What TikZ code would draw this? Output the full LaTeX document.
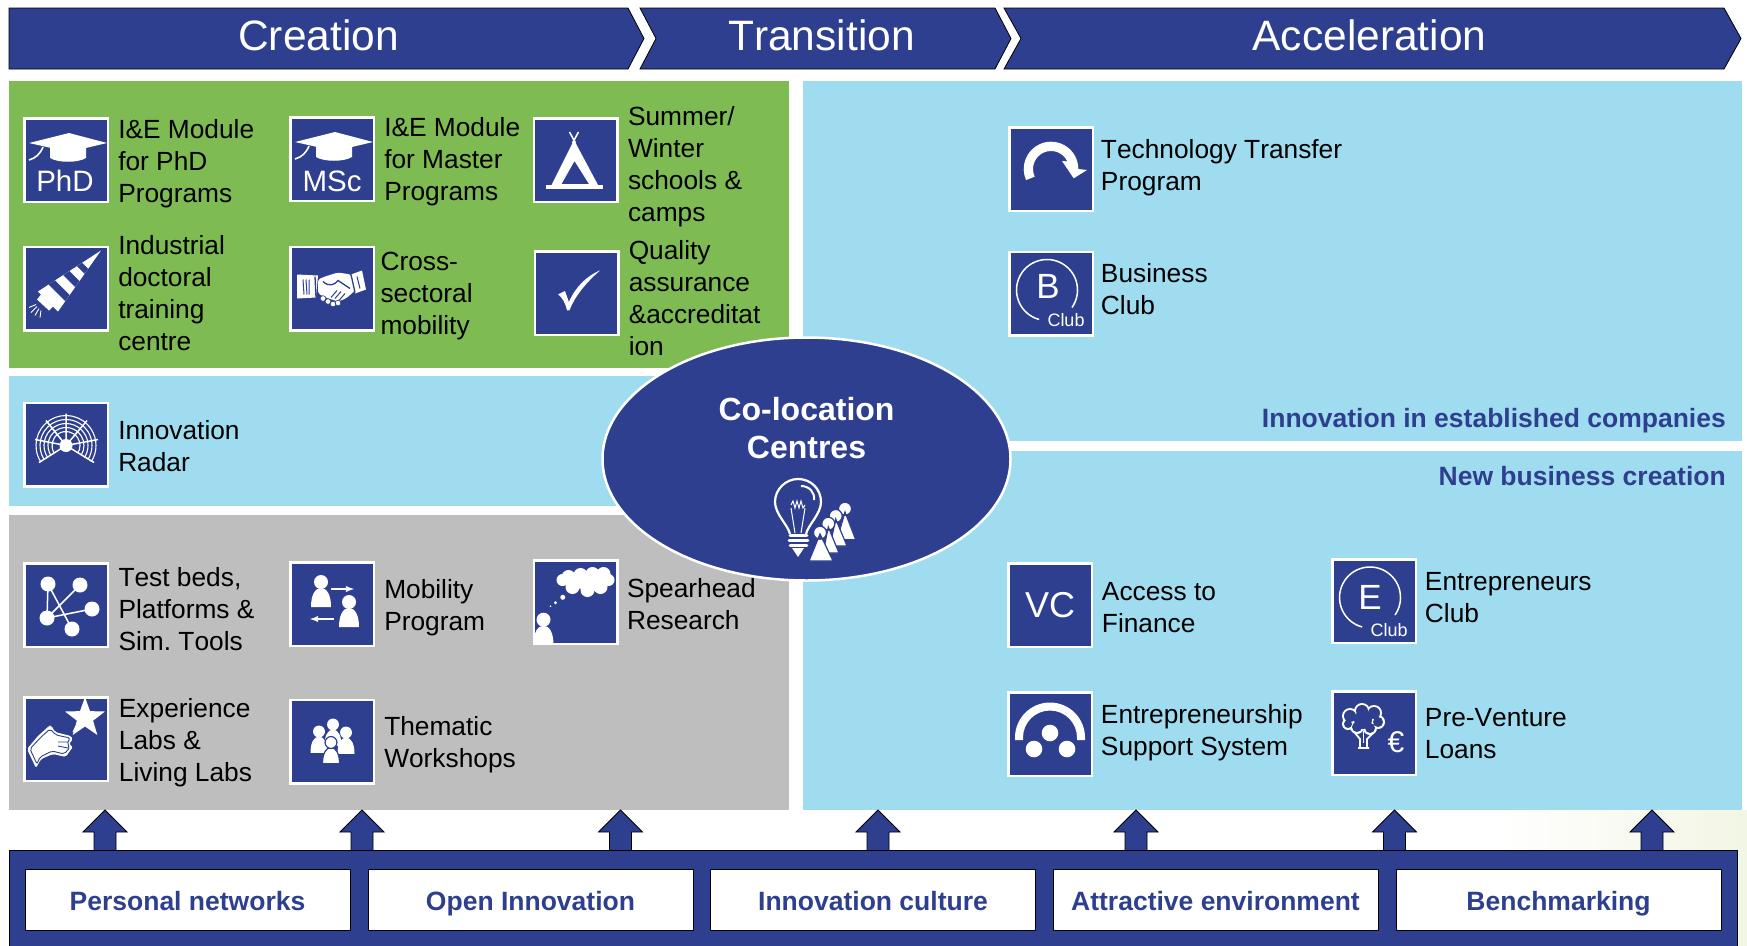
\documentclass[tikz,border=0pt]{standalone}
\usepackage{fontspec}
\setmainfont[Kerning=Off]{Liberation Sans}
\usetikzlibrary{positioning,shapes.geometric}
\definecolor{navyblue}{HTML}{2E3F8F}
\definecolor{panelgreen}{HTML}{7FBB53}
\definecolor{panelblue}{HTML}{A0DCF0}
\definecolor{panelgray}{HTML}{BEBEBE}
\definecolor{cornertint}{HTML}{F2F6E4}
\tikzset{
  stagebar/.style={draw=black, fill=navyblue, line width=0.8},
  stagelabel/.style={text=white, inner sep=0, font=\fontsize{42.5}{44}\selectfont},
  iconbox/.style={draw=white, fill=navyblue, line width=2.5, minimum size=83.5, inner sep=0, outer sep=0},
  iconlabel/.style={text=white, inner sep=0, font=\fontsize{29.5}{29.5}\selectfont},
  clublabel/.style={text=white, inner sep=0, font=\fontsize{18}{18}\selectfont},
  itemtext/.style={align=left, inner sep=0, font=\fontsize{26.3}{32}\selectfont},
  paneltitle/.style={text=navyblue, inner sep=0, font=\bfseries\fontsize{26.5}{32}\selectfont},
  enablerbox/.style={draw=black, fill=white, line width=0.8, minimum width=325, minimum height=61, inner sep=0, text height=21, text depth=0, text=navyblue, font=\bfseries\fontsize{26.5}{32}\selectfont},
  personglyph/.pic={
    \path[fill=white, pic actions] (-10,25) .. controls (-10,13) and (-6,6) .. (0,6) .. controls (6,6) and (10,13) .. (10,25) -- cycle;
    \path[fill=white, pic actions] (0,0) circle[radius=7pt];
  },
  capglyph/.pic={
    \fill[white] (-37,-17) -- (3,-27) -- (41,-17) -- (3,-8) -- cycle;
    \fill[white] (-16,-14) -- (20,-14) -- (20,-2) .. controls (12,3) and (-8,3) .. (-16,-2) -- cycle;
    \draw[white, line width=1.6] (-23,-13) .. controls (-26,-6) and (-30,-2) .. (-37,0);
  },
  tentglyph/.pic={
    \fill[white, even odd rule] (-1.5,-20) -- (22.5,25) -- (-24,25) -- cycle (-1,1) -- (13.5,24) -- (-14,24) -- cycle;
    \fill[white] (-30,25) rectangle (27,28.5);
    \draw[white, line width=1.5] (-6,-28) -- (0,-17) (3,-28) -- (-3,-17);
  },
  drillglyph/.pic={
    \fill[white] (-28,3) -- (35,-38) -- (-8,23) -- cycle;
    \fill[navyblue] (-17.3,-4) -- (-11,-8.1) -- (3.6,6.5) -- (-0.7,12.6) -- cycle;
    \fill[navyblue] (-2.8,-13.4) -- (3.5,-17.5) -- (13.5,-7.5) -- (9.2,-1.4) -- cycle;
    \fill[navyblue] (11,-22.4) -- (16.1,-25.7) -- (22.1,-19.7) -- (18.7,-14.8) -- cycle;
    \fill[white] (-25,6) -- (-13,18) -- (-17,22) -- (-29,11) -- cycle;
    \draw[white, line width=0.9] (-30,16) -- (-37,19) (-29,18) -- (-35,24) (-27,20) -- (-31,27) (-25,22) -- (-26,29);
  },
  handshakeglyph/.pic={
    \fill[white] (-35,-14) -- (-14,-13) -- (-16,9) -- (-35,10) -- cycle;
    \fill[white] (19,-14) -- (30,-18) -- (34,1) -- (23,5) -- cycle;
    \fill[white, rounded corners=2pt] (-14,-9) -- (-7,-12) -- (6,-16) -- (19,-14) -- (23,2) -- (14,10) -- (6,13) -- (-6,9) -- (-14,5) -- cycle;
    \draw[navyblue, line width=1] (-29,-9) -- (-28,6) (-26,-9) -- (-25,6) (-23,-9) -- (-23,6) (25,-12) -- (28,0);
    \draw[navyblue, line width=1.3] (-17,-12) -- (-16,9) (19,-14) -- (23,4);
    \draw[navyblue, line width=1.3] (-9,-7) .. controls (-3,-1) and (3,-4) .. (6,-8) -- (18,0);
    \draw[navyblue, line width=1] (3,10) -- (9,3) (7,12) -- (13,5) (-1,9) -- (5,2);
    \draw[navyblue, fill=white, line width=0.6] (-9,10) circle[radius=2.8pt] (-4,13) circle[radius=2.8pt] (1,15.5) circle[radius=2.8pt] (6,14.5) circle[radius=2.8pt];
  },
  checkglyph/.pic={
    \fill[white] (-18.4,1.3) -- (-11.5,-2) -- (-7.6,9) .. controls (-1,-6) and (10,-17) .. (23.7,-22.7) .. controls (9,-10) and (-2,4) .. (-7,17.3) -- (-9.5,17.3) .. controls (-11,10) and (-14,5) .. (-18.4,1.3) -- cycle;
  },
  radarglyph/.pic={
    \draw[white, line width=1.1] (0,1) ++(213:30pt) arc[start angle=213, end angle=-33, radius=30pt];
    \draw[white, line width=1.1] (0,1) ++(213:26pt) arc[start angle=213, end angle=-33, radius=26pt];
    \draw[white, line width=1.1] (0,1) ++(213:22pt) arc[start angle=213, end angle=-33, radius=22pt];
    \draw[white, line width=1.1] (0,1) ++(213:18pt) arc[start angle=213, end angle=-33, radius=18pt];
    \draw[white, line width=1.1] (0,1) ++(213:14pt) arc[start angle=213, end angle=-33, radius=14pt];
    \draw[white, line width=1.5] (0,1) -- (-31,-5) (0,1) -- (-20,-24) (0,1) -- (0,-31) (0,1) -- (21,-24) (0,1) -- (32,-5) (0,1) -- (28,18) (0,1) -- (-27,18);
    \fill[white] (0,1) circle[radius=6.5pt];
  },
  testbedglyph/.pic={
    \draw[white, line width=1.5] (-18,-21) -- (-19,13) -- (26,4) (-18,-21) -- (6,24) (14,-20) -- (-19,13);
    \fill[white] (-18,-21) circle[radius=7.5pt] (14,-20) circle[radius=7.5pt] (26,4) circle[radius=7.5pt] (-19,13) circle[radius=7.5pt] (6,24) circle[radius=7.5pt];
  },
  mobilityglyph/.pic={
    \pic at (-11,-22) {personglyph};
    \pic at (17,-2) {personglyph};
    \draw[white, line width=1.8, -latex] (-1,-15) -- (22,-15);
    \draw[white, line width=1.8, -latex] (2,15) -- (-22,15);
  },
  cloudglyph/.pic={
    \fill[white] (-7,-25) circle[radius=7pt] (5,-27) circle[radius=7pt] (17,-28) circle[radius=7pt] (28,-28) circle[radius=7pt] (33,-22) circle[radius=6pt] (25,-15) circle[radius=7pt] (12,-12) circle[radius=7pt] (-3,-15) circle[radius=7pt] (-13,-22) circle[radius=6pt];
    \fill[white] (10,-21) ellipse[x radius=20pt, y radius=8pt];
    \fill[white] (-12.7,-4.7) circle[radius=2.5pt] (-20,0.7) circle[radius=1.7pt] (-25,4.3) circle[radius=0.9pt];
    \pic at (-32,17.7) {personglyph};
  },
  handglyph/.pic={
    \fill[white, shift={(19,-21)}] (90:21pt) -- (126:8.5pt) -- (162:21pt) -- (198:8.5pt) -- (234:21pt) -- (270:8.5pt) -- (306:21pt) -- (342:8.5pt) -- (18:21pt) -- (54:8.5pt) -- cycle;
    \draw[white, line width=1] (7,-7) -- (10,-13);
    \fill[white, rounded corners=2pt] (-39,10) -- (-28,-3) -- (-17,-13) -- (-15,-14) -- (-11,-7) -- (5,-3) -- (7,0) -- (3,5) -- (7,8) -- (3,13) -- (0,18) -- (-13,15) -- (-25,20) -- (-30,29) -- cycle;
    \draw[navyblue, line width=0.9, rounded corners=2pt] (-36,10) -- (-26,-1) -- (-16,-10) -- (-10,-4) -- (4,-1) -- (1,5) -- (4,8) -- (1,12) -- (-2,15) -- (-14,12) -- (-26,18) -- (-29,25) -- cycle;
    \draw[navyblue, line width=0.9] (-8,3) -- (2,3) (-8,7) -- (2,9);
  },
  thematicglyph/.pic={
    \pic[scale=0.85] at (1,-17) {personglyph};
    \pic[scale=0.85] at (-13,-10) {personglyph};
    \pic[scale=0.85] at (14,-9) {personglyph};
    \pic[scale=0.85, draw=navyblue, line width=1.2] at (-1,1) {personglyph};
  },
  turnglyph/.pic={
    \fill[white] (204:27.3pt) arc[start angle=204, end angle=0, radius=27.3pt] -- (36,1) -- (22.7,9.3) -- (11,-8) -- (25:18pt) arc[start angle=25, end angle=205, radius=18pt] -- cycle;
  },
  clubglyph/.pic={
    \draw[white, line width=1.5] (-4,-3.5) ++(-35:30.5pt) arc[start angle=-35, end angle=255, radius=30.5pt];
  },
  archglyph/.pic={
    \fill[white] (-35,6) -- (-35,3.5) arc[start angle=180, end angle=0, radius=35pt] -- (35,6) -- (27,6) -- (27,3.5) arc[start angle=0, end angle=180, radius=27pt] -- (-27,6) -- cycle;
    \fill[white] (0,-1) circle[radius=8.3pt] (-16,15) circle[radius=8.3pt] (17,15) circle[radius=8.3pt];
  },
  treeglyph/.pic={
    \fill[white] (-24,-17) circle[radius=8pt] (-12,-22) circle[radius=8pt] (0,-20) circle[radius=8pt] (4,-11) circle[radius=7pt] (-4,-5) circle[radius=7pt] (-17,-6) circle[radius=7pt] (-26,-9) circle[radius=6pt];
    \fill[navyblue] (-24,-17) circle[radius=6pt] (-12,-22) circle[radius=6pt] (0,-20) circle[radius=6pt] (4,-11) circle[radius=5pt] (-4,-5) circle[radius=5pt] (-17,-6) circle[radius=5pt] (-26,-9) circle[radius=4pt] (-11,-13) circle[radius=9pt];
    \draw[white, line width=1.8] (-19,0) -- (-14,6) -- (-14,14) (-1,0) -- (-7,6) -- (-7,14) (-16,15) -- (-5,15);
    \draw[white, line width=1] (-10.5,-2) -- (-10.5,10);
  },
  bulbglyph/.pic={
    \draw[white, line width=2.2] (-25,12) .. controls (-27,3) and (-40,-8) .. (-40,-20) .. controls (-40,-33) and (-29,-43) .. (-17,-43) .. controls (-4,-43) and (6,-33) .. (6,-20) .. controls (6,-8) and (-7,3) .. (-9,12);
    \draw[white, line width=2] (-14,-36) .. controls (-6,-36) and (0,-30) .. (-1,-22);
    \draw[white, line width=1] (-24,-17) -- (-22,-21) -- (-20,-14) -- (-18,-21) -- (-16,-14) -- (-14,-21) -- (-12,-14) -- (-10,-17);
    \draw[white, line width=1] (-24,-14) -- (-20,11) (-10,-14) -- (-14,11);
    \draw[white, line width=2.8, line cap=round] (-25,13.5) -- (-8,13.5) (-26,18.5) -- (-7,18.5) (-25,23.5) -- (-8,23.5);
    \fill[white] (-23,26) -- (-11,26) -- (-17,35) -- cycle;
    \draw[navyblue, fill=white, line width=1.2] (30,-10) -- (40.7,17.7) -- (22,17.7) -- cycle (30,-13.3) circle[radius=6.5pt];
    \draw[navyblue, fill=white, line width=1.2] (20.7,-3) -- (32,24) -- (15,24) -- cycle (20.7,-6) circle[radius=6.5pt];
    \draw[navyblue, fill=white, line width=1.2] (13.3,5) -- (24,31) -- (8,31) -- cycle (13.3,1.7) circle[radius=6.5pt];
    \draw[navyblue, fill=white, line width=1.2] (5,12) -- (18,39) -- (-6,39) -- cycle (5,10.7) circle[radius=6.5pt];
  },
  liftarrow/.pic={
    \draw[draw=black, fill=navyblue, line width=0.8] (-11,40) -- (-11,22) -- (-22,22) -- (0,0) -- (22,22) -- (11,22) -- (11,40);
  }
}
\begin{document}
\begin{tikzpicture}[x=1pt, y=-1pt]
\useasboundingbox (0,0) rectangle (1747,945);
\shade[left color=white, right color=cornertint] (1500,810) rectangle (1747,945);

% stages
\draw[stagebar] (9,8) -- (628,8) -- (644,38.5) -- (628,69) -- (9,69) -- cycle;
\draw[stagebar] (640,8) -- (995,8) -- (1011,38.5) -- (995,69) -- (640,69) -- (656,38.5) -- cycle;
\draw[stagebar] (1004,8) -- (1724,8) -- (1741,38.5) -- (1724,69) -- (1004,69) -- (1021,38.5) -- cycle;
\node[stagelabel] (creation) at (318.5,35) {Creation};
\node[stagelabel] (transition) at (821.5,35) {Transition};
\node[stagelabel] (acceleration) at (1369.5,35) {Acceleration};

% panels
\fill[panelgreen] (9,81) rectangle (789,368);
\fill[panelblue] (9,375.5) rectangle (789,506);
\fill[panelgray] (9,515) rectangle (789,810);
\fill[panelblue] (803,81) rectangle (1742,441);
\fill[panelblue] (803,451) rectangle (1742,810);

% green panel
\node[iconbox] (phd) at (66,160) {};
\pic at (phd) {capglyph};
\node[iconlabel] (phdlabel) at (65,181) {PhD};
\node[itemtext, right=10.3pt of phd, yshift=-3.8pt] (phdtext) {I\&E Module\\for PhD\\Programs};
\node[iconbox] (msc) at (332,159) {};
\pic at (msc) {capglyph};
\node[iconlabel] (msclabel) at (332,181) {MSc};
\node[itemtext, right=10.3pt of msc, yshift=-2.6pt] (msctext) {I\&E Module\\for Master\\Programs};
\node[iconbox] (camp) at (575.5,160) {};
\pic at (camp) {tentglyph};
\node[itemtext, right=10.6pt of camp, yshift=-6.3pt] (camptext) {Summer/\\Winter\\schools \&\\camps};
\node[iconbox] (doctoral) at (66,288.5) {};
\pic at (doctoral) {drillglyph};
\node[itemtext, right=10.3pt of doctoral, yshift=-5pt] (doctoraltext) {Industrial\\doctoral\\training\\centre};
\node[iconbox] (sectoral) at (332,288.5) {};
\pic at (sectoral) {handshakeglyph};
\node[itemtext, right=6.6pt of sectoral, yshift=-7.3pt] (sectoraltext) {Cross-\\sectoral\\mobility};
\node[iconbox] (quality) at (576.5,293) {};
\pic at (quality) {checkglyph};
\node[itemtext, right=10.3pt of quality, yshift=-5pt] (qualitytext) {Quality\\assurance\\\&accreditat\\ion};

% radar panel
\node[iconbox] (radar) at (66,444.5) {};
\pic at (radar) {radarglyph};
\node[itemtext, right=10.3pt of radar, yshift=-1.2pt] (radartext) {Innovation\\Radar};

% gray panel
\node[iconbox] (testbed) at (66,605) {};
\pic at (testbed) {testbedglyph};
\node[itemtext, right=10.6pt of testbed, yshift=-4pt] (testbedtext) {Test beds,\\Platforms \&\\Sim.\ Tools};
\node[iconbox] (mobility) at (332,604) {};
\pic at (mobility) {mobilityglyph};
\node[itemtext, right=10.3pt of mobility, yshift=-3.4pt] (mobilitytext) {Mobility\\Program};
\node[iconbox] (spearhead) at (575.5,602) {};
\pic at (spearhead) {cloudglyph};
\node[itemtext, right=9.6pt of spearhead, yshift=-2pt] (spearheadtext) {Spearhead\\Research};
\node[iconbox] (experience) at (66,739) {};
\pic at (experience) {handglyph};
\node[itemtext, right=11pt of experience, yshift=-3.4pt] (experiencetext) {Experience\\Labs \&\\Living Labs};
\node[iconbox] (thematic) at (332,741.5) {};
\pic at (thematic) {thematicglyph};
\node[itemtext, right=10.3pt of thematic, yshift=-2.8pt] (thematictext) {Thematic\\Workshops};

% right panels
\node[iconbox] (transfer) at (1051,169) {};
\pic at (transfer) {turnglyph};
\node[itemtext, right=8pt of transfer, yshift=1.4pt] (transfertext) {Technology Transfer\\Program};
\node[iconbox] (business) at (1051,293.5) {};
\pic at (business) {clubglyph};
\node[iconlabel, font=\fontsize{35}{35}\selectfont] (businessletter) at (1048,286) {B};
\node[clublabel] (businesssmall) at (1066,320) {Club};
\node[itemtext, right=8pt of business, yshift=4pt] (businesstext) {Business\\Club};
\node[paneltitle, anchor=base east] (established) at (1726,427) {Innovation in established companies};
\node[paneltitle, anchor=base east] (newbusiness) at (1726,485) {New business creation};
\node[iconbox] (finance) at (1050,605) {};
\node[iconlabel, font=\fontsize{36}{36}\selectfont] (financeletters) at (1050,605) {VC};
\node[itemtext, right=10pt of finance, yshift=-3pt] (financetext) {Access to\\Finance};
\node[iconbox] (entclub) at (1374,601) {};
\pic at (entclub) {clubglyph};
\node[iconlabel, font=\fontsize{35}{35}\selectfont] (entclubletter) at (1370,597) {E};
\node[clublabel] (entclubsmall) at (1389,630) {Club};
\node[itemtext, right=9pt of entclub, yshift=3pt] (entclubtext) {Entrepreneurs\\Club};
\node[iconbox] (support) at (1050,734) {};
\pic at (support) {archglyph};
\node[itemtext, right=9pt of support, yshift=1.4pt] (supporttext) {Entrepreneurship\\Support System};
\node[iconbox] (preventure) at (1374,733) {};
\pic at (preventure) {treeglyph};
\node[iconlabel, font=\fontsize{30}{30}\selectfont] (preventureeuro) at (1396,742) {€};
\node[itemtext, right=9pt of preventure, yshift=-1pt] (preventuretext) {Pre-Venture\\Loans};

% centre
\node[ellipse, draw=white, fill=navyblue, line width=2.5, minimum width=408, minimum height=243, inner sep=0] (colocation) at (806.5,459) {};
\node[align=center, text=white, inner sep=0, font=\bfseries\fontsize{32}{38}\selectfont] (colocationtext) at (806.5,428) {Co-location\\Centres};
\pic at (815,522) {bulbglyph};

% base
\pic at (105,810) {liftarrow};
\pic at (362,810) {liftarrow};
\pic at (620.5,810) {liftarrow};
\pic at (878,810) {liftarrow};
\pic at (1136,810) {liftarrow};
\pic at (1394.5,810) {liftarrow};
\pic at (1652,810) {liftarrow};
\draw[draw=black, fill=navyblue, line width=0.8] (9,850) rectangle (1737,946);
\node[enablerbox] (networks) at (187.5,899.5) {Personal networks};
\node[enablerbox] (openinnovation) at (530.5,899.5) {Open Innovation};
\node[enablerbox] (culture) at (873,899.5) {Innovation culture};
\node[enablerbox] (environment) at (1215.5,899.5) {Attractive environment};
\node[enablerbox] (benchmarking) at (1558.5,899.5) {Benchmarking};
\end{tikzpicture}
\end{document}
